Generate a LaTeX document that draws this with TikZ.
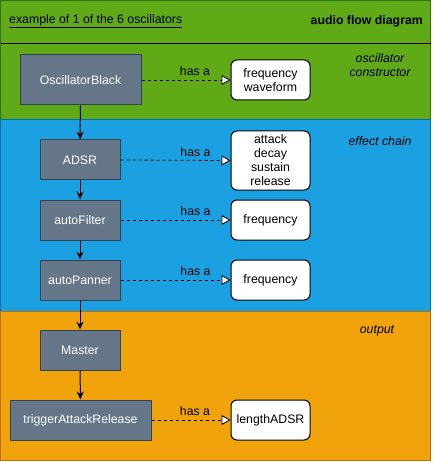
\documentclass[tikz,border=0pt]{standalone}
\usepackage{fontspec}
\setmainfont{Liberation Sans}
\usetikzlibrary{arrows.meta}
\definecolor{grn}{HTML}{60A917}
\definecolor{grnd}{HTML}{2D7600}
\definecolor{blu}{HTML}{1BA1E2}
\definecolor{blud}{HTML}{006EAF}
\definecolor{org}{HTML}{F0A30A}
\definecolor{orgd}{HTML}{BD7000}
\definecolor{gbox}{HTML}{647687}
\definecolor{gboxd}{HTML}{314354}
\newcommand{\fsz}{\fontsize{12.3}{14}\selectfont}
\tikzset{
  every node/.style={font=\fsz},
  procbox/.style={draw=gboxd, fill=gbox, text=white, line width=1pt, inner sep=0pt, minimum height=40pt},
  propbox/.style={draw=black, fill=white, rounded corners=6pt, line width=1pt, inner sep=0pt, minimum width=79pt, align=center},
  flow/.style={-{Stealth[length=8pt,width=7pt]}, line width=1pt, black},
  hasa/.style={dashed, line width=0.8pt, -{Triangle[open, fill=white, length=9pt, width=10pt, line width=0.8pt]}},
  lbl/.style={font=\fsz, inner sep=0pt},
  sect/.style={font=\fsz\itshape, align=center, inner sep=0pt}
}
\begin{document}
\begin{tikzpicture}[x=1pt,y=-1pt]
\useasboundingbox (0,0) rectangle (432,462);
% sections
\fill[grn] (0.5,0.5) rectangle (430.5,120);
\draw[grnd, line width=1pt] (0.5,120) -- (0.5,0.5) -- (430.5,0.5) -- (430.5,120);
\draw[black, line width=1pt] (0.5,44) -- (430.5,44);
\fill[blu] (0.5,120) rectangle (430.5,311);
\draw[blud, line width=1pt] (0.5,120) rectangle (430.5,311);
\fill[org] (0.5,311) rectangle (430.5,460.5);
\draw[orgd, line width=1pt] (0.5,311) rectangle (430.5,460.5);
% header texts
\node[lbl, anchor=west] (title) at (9,21) {\underline{example of 1 of the 6 oscillators}};
\node[lbl, anchor=east, font=\fsz\bfseries] (diag) at (423,21) {audio flow diagram};
\node[sect] (s1) at (380,65) {oscillator\\constructor};
\node[sect] (s2) at (380,141) {effect chain};
\node[sect] (s3) at (377,331) {output};
% process boxes
\node[procbox, minimum width=121pt, minimum height=50pt] (osc) at (80.5,80) {OscillatorBlack};
\node[procbox, minimum width=80pt] (adsr) at (80,160) {ADSR};
\node[procbox, minimum width=80pt] (af) at (80,220) {autoFilter};
\node[procbox, minimum width=80pt] (ap) at (80,280) {autoPanner};
\node[procbox, minimum width=80pt] (ms) at (80,350) {Master};
\node[procbox, minimum width=141pt] (tr) at (80.5,420) {triggerAttackRelease};
% property boxes
\node[propbox, minimum height=40pt] (p1) at (270.5,80) {frequency\\waveform};
\node[propbox, minimum height=59pt] (p2) at (270.5,160.5) {attack\\decay\\sustain\\release};
\node[propbox, minimum height=40pt] (p3) at (270.5,220) {frequency};
\node[propbox, minimum height=40pt] (p4) at (270.5,280) {frequency};
\node[propbox, minimum height=40pt] (p5) at (270.5,420) {lengthADSR};
% flow
\draw[flow] (osc) -- (adsr);
\draw[flow] (adsr) -- (af);
\draw[flow] (af) -- (ap);
\draw[flow] (ap) -- (ms);
\draw[flow] (ms) -- (tr);
% has a
\draw[hasa] (osc.east) -- node[lbl, above=3.5pt, xshift=9pt] {has a} (p1.west);
\draw[hasa] (adsr.east) -- node[lbl, above=3.5pt, xshift=20pt] {has a} (p2.west);
\draw[hasa] (af.east) -- node[lbl, above=3.5pt, xshift=20pt] {has a} (p3.west);
\draw[hasa] (ap.east) -- node[lbl, above=3.5pt, xshift=20pt] {has a} (p4.west);
\draw[hasa] (tr.east) -- node[lbl, above=3.5pt, xshift=4pt] {has a} (p5.west);
\end{tikzpicture}
\end{document}
